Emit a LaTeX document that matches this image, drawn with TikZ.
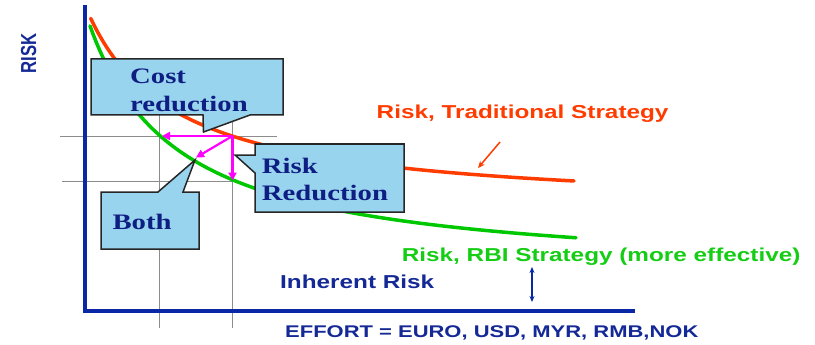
\documentclass[tikz,border=0pt]{standalone}
\usepackage{fontspec}
\usepackage{graphicx}
\usetikzlibrary{arrows.meta}
\newfontfamily\arialf{Liberation Sans}
\newfontfamily\timesf{Liberation Serif}
\definecolor{axisblue}{RGB}{10,40,165}
\definecolor{navytxt}{RGB}{20,40,150}
\definecolor{boxtxt}{RGB}{15,30,130}
\definecolor{redc}{RGB}{255,60,0}
\definecolor{greenc}{RGB}{0,200,0}
\definecolor{greentxt}{RGB}{20,205,20}
\definecolor{pinkc}{RGB}{255,0,255}
\definecolor{boxfill}{RGB}{152,212,238}
\definecolor{gridc}{RGB}{140,140,140}
\tikzset{
  lab/.style={inner sep=0pt, anchor=base west},
  sanslab/.style={lab, font=\arialf\bfseries\fontsize{18.7}{22}\selectfont},
  seriflab/.style={lab, font=\timesf\bfseries\fontsize{22.1}{28}\selectfont, text=boxtxt},
  gridl/.style={draw=gridc, line width=0.8pt},
  curve/.style={line width=3.5pt, line cap=round},
  pinkarrow/.style={draw=pinkc, line width=2.2pt, -{Triangle[length=8pt,width=8pt]}},
  callout/.style={fill=boxfill, draw=black!85, line width=1.5pt, line join=miter},
}
\begin{document}
\begin{tikzpicture}[x=1pt,y=-1pt]
\useasboundingbox (0,0) rectangle (815,345);
% grid lines
\draw[gridl] (60,136) -- (277,136);
\draw[gridl] (62,181.5) -- (233,181.5);
\draw[gridl] (159,115) -- (159,328);
\draw[gridl] (232.5,115) -- (232.5,328);
% curves
\draw[curve, redc] plot[domain=90.7:574, samples=150] (\x,{211.5-175.23/(\x/100)});
\draw[curve, greenc] plot[domain=90:576, samples=150] (\x,{277-226/(\x/100)});
% axes
\draw[axisblue, line width=4pt, line join=miter] (85,5) -- (85,311) -- (635,311);
% pink arrows
\coordinate (P) at (232.5,136);
\coordinate (H) at (162,136);
\coordinate (D) at (196,157.5);
\coordinate (V) at (232.5,180.5);
\draw[pinkarrow] (P) -- (H);
\draw[pinkarrow] (P) -- (D);
\draw[pinkarrow] (P) -- (V);
% callouts
\draw[callout] (91,59) -- (283,59) -- (283,115) -- (250,115) -- (203.5,132) -- (203,115) -- (91,115) -- cycle;
\draw[callout] (255,144) -- (404,144) -- (404,212) -- (255,212) -- (255,173) -- (235,155) -- (255,155) -- cycle;
\draw[callout] (101,192) -- (158,192) -- (195,160) -- (183,192) -- (199,192) -- (199,249) -- (101,249) -- cycle;
\node[seriflab] (cost) at (130,83.3) {\scalebox{1.3}[1]{\fontsize{22.1}{28.4}\selectfont\begin{tabular}[t]{@{}l@{}}Cost\\reduction\end{tabular}}};
\node[seriflab] (riskred) at (261.7,173.3) {\scalebox{1.3}[1]{\fontsize{22.1}{26.7}\selectfont\begin{tabular}[t]{@{}l@{}}Risk\\Reduction\end{tabular}}};
\node[seriflab] (both) at (112.3,229.3) {\scalebox{1.3}[1]{Both}};
% labels
\node[sanslab, text=redc] (trad) at (376.5,118.3) {\scalebox{1.3}[1]{Risk, Traditional Strategy}};
\node[sanslab, text=greentxt] (rbi) at (401.7,261) {\scalebox{1.3}[1]{Risk, RBI Strategy (more effective)}};
\node[sanslab, text=navytxt] (inh) at (280,288.3) {\scalebox{1.3}[1]{Inherent Risk}};
\node[lab, text=navytxt, font=\arialf\bfseries\fontsize{16.9}{20}\selectfont] (effort) at (285,337.3) {\scalebox{1.3}[1]{EFFORT = EURO, USD, MYR, RMB,NOK}};
\node[inner sep=0pt, rotate=90, text=navytxt, font=\arialf\bfseries\fontsize{16.7}{20}\selectfont] (risk) at (28.7,53.3) {\scalebox{1}[1.3]{RISK}};
% small arrows
\coordinate (ra1) at (500,142);
\coordinate (ra2) at (478,168);
\draw[redc, line width=1.5pt, -{Stealth[length=7pt,width=6pt]}] (ra1) -- (ra2);
\coordinate (ba1) at (532,267);
\coordinate (ba2) at (532,302);
\draw[axisblue, line width=1.5pt, {Stealth[length=6pt,width=5pt]}-{Stealth[length=6pt,width=5pt]}] (ba1) -- (ba2);
\end{tikzpicture}
\end{document}
